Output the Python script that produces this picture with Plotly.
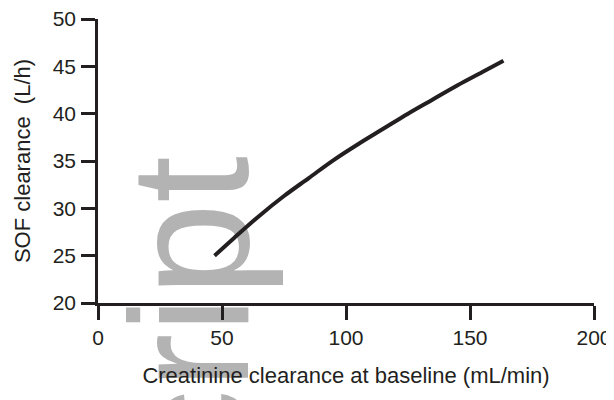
import plotly.graph_objects as go

# Data
crcl = [47, 55, 65, 75, 85, 95, 105, 115, 125, 135, 145, 155, 163.5]
sof_cl = [25.0, 26.9, 29.2, 31.3, 33.2, 35.1, 36.8, 38.4, 40.0, 41.5, 43.0, 44.4, 45.6]

x_ticks = [0, 50, 100, 150, 200]
y_ticks = [20, 25, 30, 35, 40, 45, 50]

INK = "#231f20"
FONT = "Liberation Sans, Arial, sans-serif"

# page body has an 8px margin, so the figure is sized to fit the 614x400 window
W, H = 606, 392
ML, MR, MT, MB = 90, 20, 11, 97
OFF = 8

fig = go.Figure()
fig.add_trace(go.Scatter(x=crcl, y=sof_cl, mode="lines",
                         line=dict(color=INK, width=4, shape="spline"),
                         hoverinfo="skip", showlegend=False))

# watermark (rotated gray text under the data); position given in window pixels
def px2paper(px, py):
    return ((px - OFF - ML) / (W - ML - MR),
            (H - MB - (py - OFF)) / (H - MT - MB))

cx, cy = px2paper(174, 567)
fig.add_shape(type="rect", xref="paper", yref="paper",
              x0=cx - 0.005, x1=cx + 0.005, y0=cy - 0.005, y1=cy + 0.005,
              line=dict(width=0), fillcolor="rgba(0,0,0,0)", layer="below",
              label=dict(text="Manuscript", textangle=-90, textposition="middle center",
                         font=dict(family=FONT, size=168, color="#b3b3b3")))

fig.update_layout(
    width=W, height=H,
    margin=dict(l=ML, r=MR, t=MT, b=MB),
    paper_bgcolor="white", plot_bgcolor="rgba(0,0,0,0)",
    font=dict(family=FONT, color=INK),
    showlegend=False,
)
fig.update_xaxes(range=[0, 200], tickvals=x_ticks, showgrid=False, zeroline=False,
                 automargin=False, ticklabeloverflow="allow",
                 showline=True, linecolor=INK, linewidth=2.5,
                 ticks="outside", ticklen=14, tickwidth=2.5, tickcolor=INK,
                 tickfont=dict(size=21, color=INK), ticklabelstandoff=0,
                 title=dict(text="Creatinine clearance at baseline (mL/min)",
                            font=dict(size=22, color=INK), standoff=20))
fig.update_yaxes(range=[20, 50], tickvals=y_ticks, showgrid=False, zeroline=False,
                 automargin=False, ticklabeloverflow="allow",
                 showline=True, linecolor=INK, linewidth=2.5,
                 ticks="outside", ticklen=14, tickwidth=2.5, tickcolor=INK,
                 tickfont=dict(size=21, color=INK), ticklabelstandoff=1,
                 title=dict(text="SOF clearance\u00a0 (L/h)",
                            font=dict(size=22, color=INK), standoff=16))

fig.write_html("out.html")
